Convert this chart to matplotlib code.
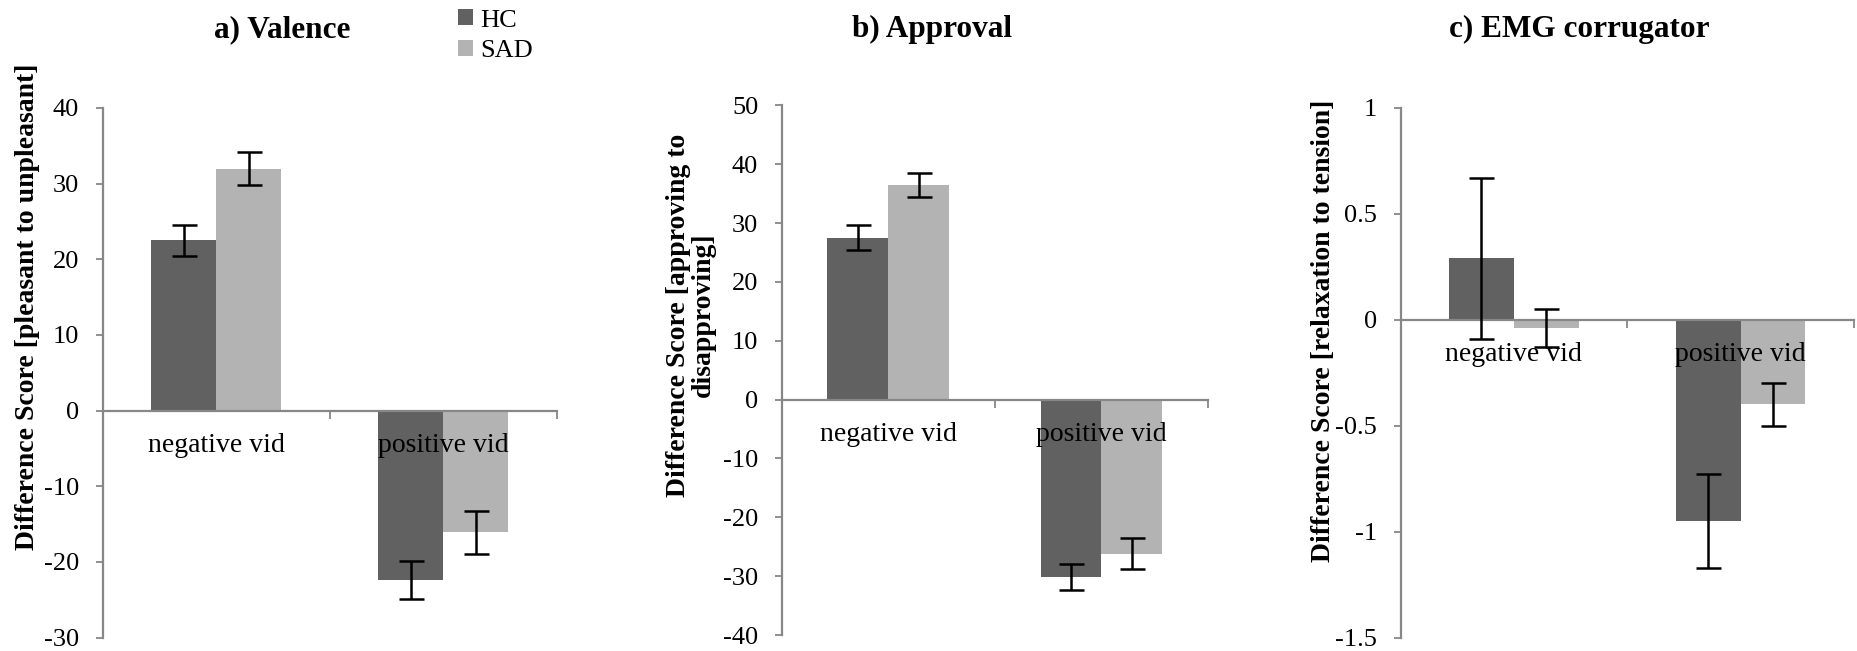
import matplotlib
matplotlib.use("Agg")
import matplotlib.pyplot as plt
import numpy as np

plt.rcParams['font.family'] = ['Liberation Serif', 'DejaVu Serif']
plt.rcParams['axes.unicode_minus'] = False

# ---- data ----
categories = ['negative vid', 'positive vid']
groups = ['HC', 'SAD']

valence_hc = [22.5, -22.4]
valence_hc_err = [2.0, 2.5]
valence_sad = [32.0, -16.1]
valence_sad_err = [2.2, 2.8]

approval_hc = [27.5, -30.1]
approval_hc_err = [2.1, 2.2]
approval_sad = [36.5, -26.2]
approval_sad_err = [2.0, 2.6]

emg_hc = [0.29, -0.95]
emg_hc_err = [0.38, 0.22]
emg_sad = [-0.04, -0.40]
emg_sad_err = [0.09, 0.10]

titles = ['a) Valence', 'b) Approval', 'c) EMG corrugator']
ylabels = ['Difference Score [pleasant to unpleasant]',
           'Difference Score [approving to\ndisapproving]',
           'Difference Score [relaxation to tension]']
yticks_a = [-30, -20, -10, 0, 10, 20, 30, 40]
yticks_b = [-40, -30, -20, -10, 0, 10, 20, 30, 40, 50]
yticks_c = [-1.5, -1, -0.5, 0, 0.5, 1]
yticklabels_c = ['-1.5', '-1', '-0.5', '0', '0.5', '1']

# ---- style ----
C_HC = '#616161'
C_SAD = '#b3b3b3'
AX_C = '#878787'
W, H = 1857, 651
DPI = 100

fig = plt.figure(figsize=(W / DPI, H / DPI), dpi=DPI)

def px_axes(left, right, top, bottom):
    return fig.add_axes([left / W, 1 - bottom / H, (right - left) / W, (bottom - top) / H])

axes = [px_axes(102.7, 556.6, 108.0, 637.5),
        px_axes(781.7, 1208.0, 105.3, 635.0),
        px_axes(1400.5, 1854.0, 107.8, 637.5)]

data = [(valence_hc, valence_hc_err, valence_sad, valence_sad_err),
        (approval_hc, approval_hc_err, approval_sad, approval_sad_err),
        (emg_hc, emg_hc_err, emg_sad, emg_sad_err)]
ylims = [(-30, 40), (-40, 50), (-1.5, 1)]
ytick_sets = [(yticks_a, [str(v) for v in yticks_a]),
              (yticks_b, [str(v) for v in yticks_b]),
              (yticks_c, yticklabels_c)]

bw = 1 / 3.5
idx = np.arange(len(categories))
handles = None
for ax, (hc, hce, sad, sade), ylim, (yt, ytl) in zip(axes, data, ylims, ytick_sets):
    centers = idx + 0.5
    b1 = ax.bar(centers - bw / 2, hc, bw, color=C_HC, zorder=1)
    b2 = ax.bar(centers + bw / 2, sad, bw, color=C_SAD, zorder=1)
    ax.errorbar(centers - bw / 2, hc, yerr=hce, fmt='none', ecolor='black',
                elinewidth=1.8, capsize=9.0, capthick=1.8, zorder=3)
    ax.errorbar(centers + bw / 2, sad, yerr=sade, fmt='none', ecolor='black',
                elinewidth=1.8, capsize=9.0, capthick=1.8, zorder=3)
    handles = (b1, b2)
    ax.set_xlim(0, len(categories))
    ax.set_ylim(*ylim)
    ax.set_yticks(yt)
    ax.set_yticklabels(ytl)
    for s in ['top', 'right']:
        ax.spines[s].set_visible(False)
    ax.spines['bottom'].set_position(('data', 0))
    for s in ['left', 'bottom']:
        ax.spines[s].set_color(AX_C)
        ax.spines[s].set_linewidth(1.6)
    ax.tick_params(axis='y', colors=AX_C, labelcolor='black', labelsize=19,
                   length=5.4, width=1.3, pad=11.5, direction='out')
    ax.set_xticks(np.arange(len(categories) + 1))
    ax.set_xticklabels([])
    ax.set_xticks(centers, minor=True)
    ax.set_xticklabels(categories, minor=True)
    ax.tick_params(axis='x', which='major', colors=AX_C, length=5.4, width=1.3, direction='out')
    ax.tick_params(axis='x', which='minor', length=0, labelsize=20, labelcolor='black', pad=16)
    for lbl in ax.get_xticklabels(minor=True):
        lbl.set_zorder(5)
    ax.set_facecolor('none')

# titles
title_x = [282, 932, 1579]
for t, x in zip(titles, title_x):
    fig.text(x / W, 1 - 37 / H, t, ha='center', va='baseline', fontsize=22.5, fontweight='bold')

# y labels
ylabel_pos = [(28, 307), (691, 315), (1323, 331)]
for lab, (x, y) in zip(ylabels, ylabel_pos):
    fig.text(x / W, 1 - y / H, lab, rotation=90, ha='center', va='center',
             fontsize=20, fontweight='bold', multialignment='center', linespacing=1.0)

# legend
fig.legend(handles, groups, loc='upper left', bbox_to_anchor=(458 / W, 1 - 9 / H),
           frameon=False, fontsize=19, handlelength=0.58, handleheight=0.58,
           handletextpad=0.25, labelspacing=0.32, borderpad=0, borderaxespad=0)

fig.savefig('out.png', dpi=DPI)
